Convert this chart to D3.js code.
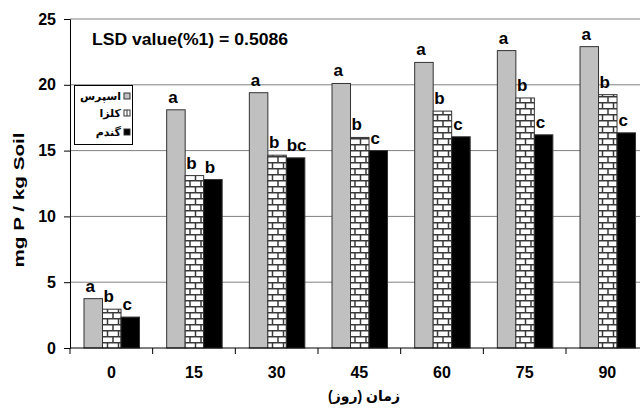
<!DOCTYPE html>
<html>
<head>
<meta charset="utf-8">
<title>mg P / kg Soil</title>
<script src="https://d3js.org/d3.v7.min.js"></script>
<style>
  body { margin: 0; background: #fff; }
  text { font-family: "Liberation Sans", Arial, "DejaVu Sans", sans-serif; font-weight: bold; }
</style>
</head>
<body>
<div id="chart"></div>
<script>
// days on the x axis
var days = ["0", "15", "30", "45", "60", "75", "90"];
// series (legend order)
var seriesNames = ["اسپرس", "کلزا", "گندم"];
var esparcet = [3.75, 18.1, 19.4, 20.1, 21.7, 22.6, 22.9];
var canola   = [2.95, 13.1, 14.65, 16.0, 18.0, 19.0, 19.25];
var wheat    = [2.35, 12.8, 14.45, 15.0, 16.05, 16.2, 16.35];
// significance letters per bar
var lettersEsp = ["a", "a", "a", "a", "a", "a", "a"];
var lettersCan = ["b", "b", "b", "b", "b", "b", "b"];
var lettersWht = ["c", "b", "bc", "c", "c", "c", "c"];
var yTicks = [0, 5, 10, 15, 20, 25];

function draw() {
  var W = 640, H = 409;
  var svg = d3.select("#chart").append("svg").attr("width", W).attr("height", H);

  // brick pattern for the second series
  var defs = svg.append("defs");
  var pat = defs.append("pattern").attr("id", "brick")
    .attr("patternUnits", "userSpaceOnUse").attr("width", 11).attr("height", 12);
  pat.append("rect").attr("width", 11).attr("height", 12).attr("fill", "#fff");
  pat.append("path")
    .attr("d", "M0,0.75H11M0,6.75H11M3,0V6M8.5,6V12")
    .attr("stroke", "#3a3a3a").attr("stroke-width", 1.5).attr("fill", "none");

  var plotL = 70, plotB = 348, plotT = 19, bandW = 82.67;
  var x = d3.scaleBand().domain(days).range([plotL, plotL + bandW * days.length]);
  var xs = d3.scaleBand().domain([0, 1, 2]).range([14, 69.5]);
  var y = d3.scaleLinear().domain([0, 25]).range([plotB, plotT]);

  // gridlines
  svg.append("g").selectAll("line").data(yTicks.slice(1)).join("line")
    .attr("x1", plotL).attr("x2", W).attr("y1", d => y(d)).attr("y2", d => y(d))
    .attr("stroke", "#808080").attr("stroke-width", 1);

  var fills = ["#c0c0c0", "url(#brick)", "#000"];
  var values = [esparcet, canola, wheat];
  var letters = [lettersEsp, lettersCan, lettersWht];

  var rows = [];
  days.forEach(function (d, i) {
    for (var s = 0; s < 3; s++) rows.push({ day: d, s: s, v: values[s][i], l: letters[s][i] });
  });

  svg.append("g").selectAll("rect").data(rows).join("rect")
    .attr("x", d => x(d.day) + xs(d.s))
    .attr("width", xs.bandwidth())
    .attr("y", d => y(d.v))
    .attr("height", d => plotB - y(d.v))
    .attr("fill", d => fills[d.s])
    .attr("stroke", "#333").attr("stroke-width", 1);

  svg.append("g").selectAll("text").data(rows).join("text")
    .attr("x", d => x(d.day) + xs(d.s) + xs.bandwidth() / 2 - 3 + (d.l.length > 1 ? 4 : 0))
    .attr("y", d => y(d.v) - 7)
    .attr("text-anchor", "middle")
    .attr("font-size", 17)
    .text(d => d.l);

  // y axis
  var yAxis = d3.axisLeft(y).tickValues(yTicks).tickSize(6).tickPadding(8);
  var gy = svg.append("g").attr("transform", "translate(" + plotL + ",0)").call(yAxis);
  gy.select(".domain").attr("stroke", "#000");
  gy.selectAll(".tick line").attr("stroke", "#000");
  gy.selectAll(".tick text").attr("font-size", 16).attr("font-family", null).attr("fill", "#000");

  // x axis with ticks at band boundaries
  svg.append("line").attr("x1", plotL).attr("x2", W).attr("y1", plotB).attr("y2", plotB).attr("stroke", "#000");
  svg.append("g").selectAll("line").data(days).join("line")
    .attr("x1", d => x(d)).attr("x2", d => x(d))
    .attr("y1", plotB).attr("y2", plotB + 6).attr("stroke", "#000");
  svg.append("g").selectAll("text").data(days).join("text")
    .attr("x", d => x(d) + x.bandwidth() / 2)
    .attr("y", 378)
    .attr("text-anchor", "middle").attr("font-size", 16)
    .text(d => d);

  // axis titles
  svg.append("text").attr("x", 364).attr("y", 401).attr("text-anchor", "middle")
    .attr("font-size", 14).attr("direction", "rtl").text("زمان (روز)");
  svg.append("text").attr("transform", "translate(24,200) rotate(-90)")
    .attr("text-anchor", "middle").attr("font-size", 15)
    .attr("textLength", 135).attr("lengthAdjust", "spacingAndGlyphs")
    .text("mg P / kg Soil");

  svg.append("text").attr("x", 92).attr("y", 45).attr("font-size", 16)
    .attr("textLength", 196).attr("lengthAdjust", "spacingAndGlyphs")
    .text("LSD value(%1) = 0.5086");

  // legend
  var lg = svg.append("g");
  lg.append("rect").attr("x", 74.5).attr("y", 85.5).attr("width", 58).attr("height", 59)
    .attr("fill", "#fff").attr("stroke", "#000");
  var legY = [96, 113, 132];
  seriesNames.forEach(function (n, i) {
    lg.append("rect").attr("x", 124).attr("y", legY[i] - 3).attr("width", 6).attr("height", 6)
      .attr("fill", i === 1 ? "#fff" : fills[i]).attr("stroke", "#333");
    if (i === 1) {
      lg.append("line").attr("x1", 127).attr("x2", 127).attr("y1", legY[i] - 3).attr("y2", legY[i] + 3).attr("stroke", "#333");
    }
    lg.append("text").attr("x", 121).attr("y", legY[i] + 4).attr("text-anchor", "start")
      .attr("direction", "rtl").attr("font-size", 11).text(n);
  });
}
draw();
</script>
</body>
</html>
